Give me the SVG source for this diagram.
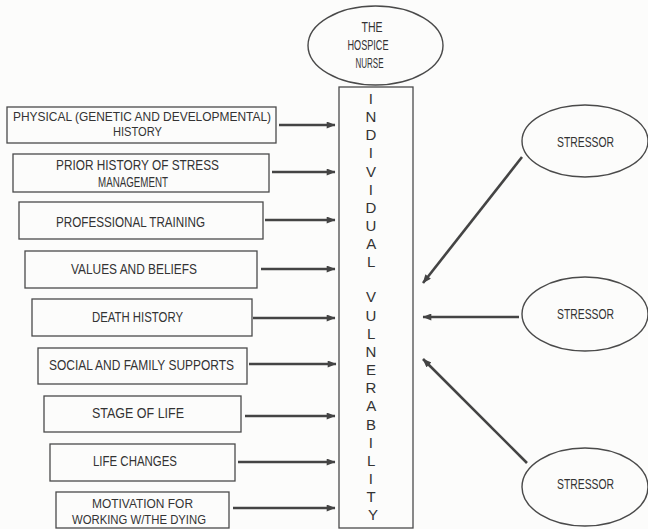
<svg xmlns="http://www.w3.org/2000/svg" width="648" height="529" viewBox="0 0 648 529">
<defs>
<style>
.bg{fill:#fcfcfb}
.box{fill:none;stroke:#4a4a4a;stroke-width:1.3}
.ell{fill:none;stroke:#4a4a4a;stroke-width:1.4}
.t{font-family:"Liberation Sans",Arial,sans-serif;font-size:14px;fill:#333;text-anchor:middle}
.s{font-size:12.5px}
.n{font-size:15px}
.v{font-family:"Liberation Sans",Arial,sans-serif;font-size:15px;fill:#333;text-anchor:middle}
.arr{stroke:#444;stroke-width:2.6;fill:none;marker-end:url(#ah)}
</style>
<marker id="ah" viewBox="0 0 10 8" refX="9.5" refY="4" markerWidth="10" markerHeight="7" markerUnits="userSpaceOnUse" orient="auto">
<path d="M0,0 L10,4 L0,8 z" fill="#444"/>
</marker>
</defs>
<rect class="bg" x="0" y="0" width="648" height="529"/>

<g id="nurse">
<ellipse class="ell" cx="375.5" cy="45.5" rx="67.5" ry="39.5"/>
<text class="t n" x="372" y="32" textLength="21" lengthAdjust="spacingAndGlyphs">THE</text>
<text class="t n" x="368" y="50" textLength="41" lengthAdjust="spacingAndGlyphs">HOSPICE</text>
<text class="t n" x="369.5" y="68" textLength="28" lengthAdjust="spacingAndGlyphs">NURSE</text>
</g>

<g id="vulnerability">
<rect class="box" x="339" y="87" width="74" height="441"/>
<text class="v">
<tspan x="373" y="104">I</tspan>
<tspan x="373" y="122">N</tspan>
<tspan x="373" y="140">D</tspan>
<tspan x="373" y="158">I</tspan>
<tspan x="373" y="177">V</tspan>
<tspan x="373" y="195">I</tspan>
<tspan x="373" y="213">D</tspan>
<tspan x="373" y="231">U</tspan>
<tspan x="373" y="249">A</tspan>
<tspan x="373" y="267">L</tspan>
<tspan x="373" y="302">V</tspan>
<tspan x="373" y="321">U</tspan>
<tspan x="373" y="339">L</tspan>
<tspan x="373" y="357">N</tspan>
<tspan x="373" y="375">E</tspan>
<tspan x="373" y="393">R</tspan>
<tspan x="373" y="411">A</tspan>
<tspan x="373" y="430">B</tspan>
<tspan x="373" y="448">I</tspan>
<tspan x="373" y="466">L</tspan>
<tspan x="373" y="484">I</tspan>
<tspan x="373" y="502">T</tspan>
<tspan x="373" y="520">Y</tspan>
</text>
</g>

<g id="physical">
<rect class="box" x="7" y="107" width="269" height="36"/>
<text class="t s" x="142" y="121" textLength="258" lengthAdjust="spacingAndGlyphs">PHYSICAL (GENETIC AND DEVELOPMENTAL)</text>
<text class="t s" x="137.5" y="136" textLength="49" lengthAdjust="spacingAndGlyphs">HISTORY</text>
</g>
<g id="prior">
<rect class="box" x="13" y="154" width="256" height="38"/>
<text class="t" x="137.5" y="170" textLength="163" lengthAdjust="spacingAndGlyphs">PRIOR HISTORY OF STRESS</text>
<text class="t" x="133" y="187" textLength="70" lengthAdjust="spacingAndGlyphs">MANAGEMENT</text>
</g>
<g id="training">
<rect class="box" x="19" y="202" width="244" height="37"/>
<text class="t" x="130.5" y="227" textLength="149" lengthAdjust="spacingAndGlyphs">PROFESSIONAL TRAINING</text>
</g>
<g id="values">
<rect class="box" x="25" y="251" width="232" height="37"/>
<text class="t" x="134" y="273.5" textLength="126" lengthAdjust="spacingAndGlyphs">VALUES AND BELIEFS</text>
</g>
<g id="death">
<rect class="box" x="32" y="299" width="220" height="37"/>
<text class="t" x="137.5" y="322" textLength="91" lengthAdjust="spacingAndGlyphs">DEATH HISTORY</text>
</g>
<g id="social">
<rect class="box" x="38" y="348" width="209" height="36"/>
<text class="t" x="141.5" y="370" textLength="185" lengthAdjust="spacingAndGlyphs">SOCIAL AND FAMILY SUPPORTS</text>
</g>
<g id="stage">
<rect class="box" x="44" y="396" width="197" height="36"/>
<text class="t" x="138" y="418" textLength="92" lengthAdjust="spacingAndGlyphs">STAGE OF LIFE</text>
</g>
<g id="changes">
<rect class="box" x="50" y="444" width="185" height="37"/>
<text class="t" x="135" y="466" textLength="84" lengthAdjust="spacingAndGlyphs">LIFE CHANGES</text>
</g>
<g id="motivation">
<rect class="box" x="56" y="492" width="173" height="36"/>
<text class="t s" x="142.5" y="508" textLength="101" lengthAdjust="spacingAndGlyphs">MOTIVATION FOR</text>
<text class="t s" x="139" y="523.5" textLength="134" lengthAdjust="spacingAndGlyphs">WORKING W/THE DYING</text>
</g>

<g id="stressor1">
<ellipse class="ell" cx="585" cy="141" rx="63" ry="36"/>
<text class="t" x="585.5" y="147" textLength="57" lengthAdjust="spacingAndGlyphs">STRESSOR</text>
</g>
<g id="stressor2">
<ellipse class="ell" cx="585" cy="314" rx="63" ry="37"/>
<text class="t" x="585.5" y="318.5" textLength="57" lengthAdjust="spacingAndGlyphs">STRESSOR</text>
</g>
<g id="stressor3">
<ellipse class="ell" cx="585" cy="487" rx="63" ry="39"/>
<text class="t" x="585.5" y="488.5" textLength="57" lengthAdjust="spacingAndGlyphs">STRESSOR</text>
</g>

<g id="connectors">
<line class="arr" x1="279" y1="125" x2="335" y2="125"/>
<line class="arr" x1="272" y1="172" x2="335" y2="172"/>
<line class="arr" x1="265" y1="220" x2="335" y2="220"/>
<line class="arr" x1="261" y1="269" x2="335" y2="269"/>
<line class="arr" x1="253" y1="318" x2="335" y2="318"/>
<line class="arr" x1="249" y1="364" x2="336" y2="364"/>
<line class="arr" x1="245" y1="416" x2="335" y2="416"/>
<line class="arr" x1="238" y1="462" x2="335" y2="462"/>
<line class="arr" x1="233" y1="508" x2="335" y2="508"/>
<line class="arr" x1="522" y1="157" x2="423" y2="283"/>
<line class="arr" x1="519" y1="317" x2="423" y2="317"/>
<line class="arr" x1="527" y1="463" x2="423" y2="359"/>
</g>
</svg>
